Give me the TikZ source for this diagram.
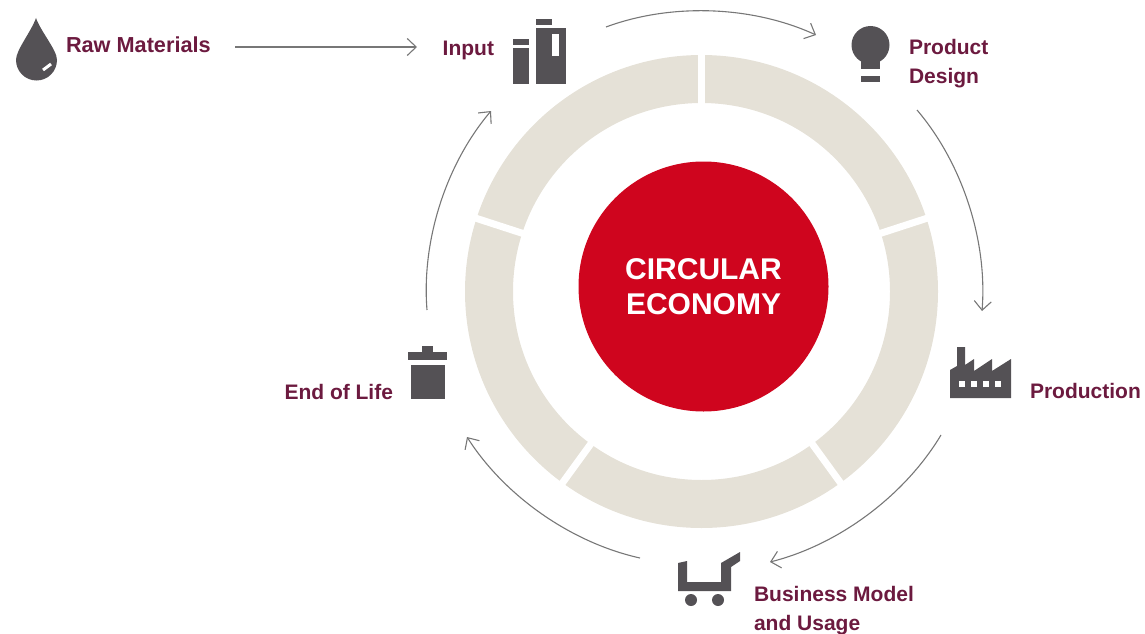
\documentclass[tikz,border=0pt]{standalone}
\usepackage{fontspec}
\setmainfont{Liberation Sans}
\usepackage{xcolor}
\usetikzlibrary{positioning, arrows.meta}
\definecolor{ringbeige}{HTML}{E5E1D7}
\definecolor{corered}{HTML}{CF051E}
\definecolor{icongrey}{HTML}{545155}
\definecolor{labelwine}{HTML}{6C1A3F}
\definecolor{arrowgrey}{HTML}{777777}

\begin{document}
\begin{tikzpicture}[
    x=1pt, y=-1pt,
    itemlabel/.style={inner sep=0pt, outer sep=0pt, align=left, text=labelwine, font=\fontsize{21}{29}\selectfont\bfseries},
    corelabel/.style={circle, fill=corered, minimum size=250pt, inner sep=0pt, align=center, text=white, font=\fontsize{30}{35}\selectfont\bfseries},
    flowline/.style={draw=arrowgrey, line width=1.1pt, -{Straight Barb[length=9pt, width=17pt]}},
    flowarc/.style={flowline, bend left=22.5, looseness=0.85},
    icon/.style={fill=icongrey},
    iconcut/.style={fill=white}
]
\useasboundingbox (0,0) rectangle (1145,634);

\coordinate (ringcentre) at (701.5,291.5);
\draw[ringbeige, line width=48pt] (ringcentre) circle[radius=212.5pt];
\foreach \a in {90,18,-54,-126,162}
    \draw[white, line width=7pt] (ringcentre) -- ++(\a:245pt);
\node[corelabel](core) at (703.5,286.5){CIRCULAR\\ECONOMY};

\coordinate (dropicon) at (36,48);
\coordinate (inputicon) at (512,48);
\coordinate (bulbicon) at (871,61.5);
\coordinate (factoryicon) at (1011,391);
\coordinate (carticon) at (731,608.5);
\coordinate (trashicon) at (408,391);

\node[itemlabel, font=\fontsize{21.7}{29}\selectfont\bfseries](rawlabel)[right = 30pt of dropicon, yshift=3pt]{Raw Materials};
\node[itemlabel](inputlabel)[left = 18pt of inputicon, yshift=-2pt]{Input};
\node[itemlabel](designlabel)[right = 38pt of bulbicon, yshift=-2pt]{Product\\Design};
\node[itemlabel](productionlabel)[right = 19pt of factoryicon]{Production};
\node[itemlabel](usagelabel)[right = 23pt of carticon, yshift=-2pt]{Business Model\\and Usage};
\node[itemlabel](lifelabel)[left = 15pt of trashicon, yshift=-1pt]{End of Life};

\fill[icon] (36,18) .. controls (31,32) and (16,50) .. (16,60) arc[start angle=180, end angle=360, radius=20.5pt] .. controls (57,50) and (41,32) .. (36,18) -- cycle;
\draw[white, line width=3pt] (43,70) -- (51,64);

\fill[icon] (513,39) rectangle (529,45);
\fill[icon] (513,48) rectangle (529,84);
\fill[icon] (536,19) rectangle (552,25);
\fill[icon] (536,28) rectangle (566,84);
\fill[iconcut] (552,34) rectangle (559,56);

\fill[icon] (870.5,45) circle[radius=19pt];
\fill[icon] (861,55) rectangle (880,69);
\fill[icon] (861,76) rectangle (880,82);

\fill[icon] (950,398) -- (950,370) -- (957,366) -- (957,347) -- (965,347) -- (965,365) -- (974,359) -- (974,371) -- (992,359) -- (992,371) -- (1011,359) -- (1011,398) -- cycle;
\foreach \x in {959,971,983,995}
    \fill[iconcut] (\x,381) rectangle (\x+6,387);

\fill[icon] (678,563) -- (687,561) -- (687,582) -- (721,582) -- (721,563) -- (740,552) -- (740,561) -- (731,567) -- (731,591) -- (678,591) -- cycle;
\fill[icon] (691,600) circle[radius=6pt];
\fill[icon] (718,600) circle[radius=6pt];

\fill[icon] (422,346) rectangle (433,352);
\fill[icon] (408,352) rectangle (447,360);
\fill[icon] (411,365) rectangle (445,399);

\coordinate (rawout) at (235,47);
\coordinate (inputin) at (417,47);
\coordinate (inputout) at (606,27);
\coordinate (designin) at (816,35);
\coordinate (designout) at (917,110);
\coordinate (productionin) at (982,311);
\coordinate (productionout) at (941,435);
\coordinate (usagein) at (770,562);
\coordinate (usageout) at (640,558);
\coordinate (lifein) at (467,437);
\coordinate (lifeout) at (427,310);
\coordinate (inputback) at (491,111);

\draw[flowline] (rawout) -- (inputin);
\draw[flowarc] (inputout) to (designin);
\draw[flowarc] (designout) to (productionin);
\draw[flowarc] (productionout) to (usagein);
\draw[flowarc] (usageout) to (lifein);
\draw[flowarc] (lifeout) to (inputback);
\end{tikzpicture}
\end{document}
